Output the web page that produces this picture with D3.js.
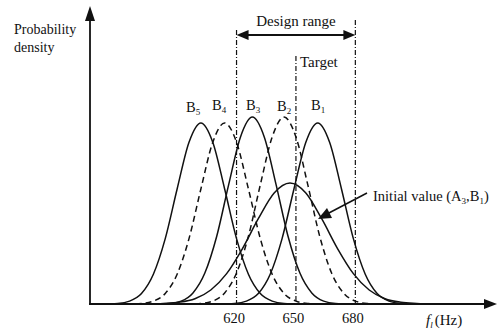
<!DOCTYPE html>
<html>
<head>
<meta charset="utf-8">
<script src="https://cdn.jsdelivr.net/npm/d3@7"></script>
<style>
  body { margin: 0; background: #fff; }
  svg text { font-family: "Liberation Serif", "Times New Roman", serif; fill: #111; }
</style>
</head>
<body>
<div class="chart"></div>
<script>
// frequency (Hz) / probability density pairs
const curveB5 = [[552,0],[560,0.0001],[566,0.0005],[572,0.0018],[578,0.0051],[584,0.0112],[590,0.0197],[596,0.0277],[602,0.031],[608,0.0277],[614,0.0197],[620,0.0112],[626,0.0051],[632,0.0018],[638,0.0005],[644,0.0001],[652,0]];
const curveB4 = [[564,0],[572,0.0001],[578,0.0005],[584,0.0018],[590,0.0051],[596,0.0112],[602,0.0197],[608,0.0277],[614,0.031],[620,0.0277],[626,0.0197],[632,0.0112],[638,0.0051],[644,0.0018],[650,0.0005],[656,0.0001],[664,0]];
const curveB3 = [[578,0],[586,0.0001],[592,0.0005],[598,0.0019],[604,0.0053],[610,0.0116],[616,0.0204],[622,0.0286],[628,0.032],[634,0.0286],[640,0.0204],[646,0.0116],[652,0.0053],[658,0.0019],[664,0.0005],[670,0.0001],[678,0]];
const curveB2 = [[594,0],[602,0.0001],[608,0.0005],[614,0.0019],[620,0.0053],[626,0.0116],[632,0.0204],[638,0.0286],[644,0.032],[650,0.0286],[656,0.0204],[662,0.0116],[668,0.0053],[674,0.0019],[680,0.0005],[686,0.0001],[694,0]];
const curveB1 = [[611,0],[619,0.0001],[625,0.0005],[631,0.0018],[637,0.0051],[643,0.0112],[649,0.0197],[655,0.0277],[661,0.031],[667,0.0277],[673,0.0197],[679,0.0112],[685,0.0051],[691,0.0018],[697,0.0005],[703,0.0001],[711,0]];
const curveInitial = [[575,0],[583,0.0001],[591,0.0003],[599,0.0009],[607,0.0024],[615,0.0052],[623,0.0095],[631,0.0146],[639,0.019],[647,0.0207],[655,0.019],[663,0.0146],[671,0.0095],[679,0.0052],[687,0.0024],[695,0.0009],[703,0.0003],[711,0.0001],[720,0]];

const curveNames = ["B5", "B4", "B3", "B2", "B1", "Initial"];
const curveDashed = [false, true, false, true, false, false];
const curveData = [curveB5, curveB4, curveB3, curveB2, curveB1, curveInitial];

const tickValues = [620, 650, 680];
const designRange = [620, 680];
const targetFreq = 650;

const width = 498, height = 331;

const svg = d3.select(".chart").append("svg")
    .attr("width", width)
    .attr("height", height);

let xScale = d3.scaleLinear().domain([546, 748]).range([90, 490]);
let yScale = d3.scaleLinear().domain([0, 0.05]).range([304, 12]);

//draw curves
let line = d3.line()
    .x(function(d) { return xScale(d[0]); })
    .y(function(d) { return yScale(d[1]); })
    .curve(d3.curveMonotoneX);

curveData.forEach(function(pts, i) {
    svg.append("path")
        .datum(pts)
        .attr("fill", "none")
        .attr("stroke", "#111")
        .attr("stroke-width", 1.5)
        .attr("stroke-dasharray", curveDashed[i] ? "6,4" : null)
        .attr("d", line);
});

//reference lines (dash-dot)
let base = yScale(0);
[[designRange[0], 30], [targetFreq, 56], [designRange[1], 20]].forEach(function(r) {
    svg.append("line")
        .attr("x1", xScale(r[0])).attr("x2", xScale(r[0]))
        .attr("y1", r[1]).attr("y2", base)
        .attr("stroke", "#111")
        .attr("stroke-width", 1.2)
        .attr("stroke-dasharray", "5,2,1,2");
});

//axes
let xAxis = svg.append("g")
    .attr("transform", "translate(0," + base + ")")
    .call(d3.axisBottom(xScale).tickValues(tickValues).tickSize(0).tickPadding(9));
xAxis.select(".domain").remove();
xAxis.selectAll("text")
    .attr("dx", -3)
    .style("font-family", "Liberation Serif, serif")
    .style("font-size", "14.5px")
    .attr("fill", "#111");

svg.append("line")
    .attr("x1", 89).attr("x2", 488).attr("y1", base).attr("y2", base)
    .attr("stroke", "#111").attr("stroke-width", 2.2);
svg.append("path")
    .attr("d", "M497," + base + "L484," + (base - 5) + "L484," + (base + 5) + "Z")
    .attr("fill", "#111");

svg.append("line")
    .attr("x1", 90).attr("x2", 90).attr("y1", base + 1).attr("y2", 18)
    .attr("stroke", "#111").attr("stroke-width", 1.8);
svg.append("path")
    .attr("d", "M90,6L85,21L95,21Z")
    .attr("fill", "#111");

//design range arrow
let ax1 = xScale(designRange[0]), ax2 = xScale(designRange[1]);
svg.append("line")
    .attr("x1", ax1 + 8).attr("x2", ax2 - 8).attr("y1", 35).attr("y2", 35)
    .attr("stroke", "#111").attr("stroke-width", 1.8);
svg.append("path").attr("d", "M" + ax1 + ",35L" + (ax1 + 12) + ",30L" + (ax1 + 12) + ",40Z").attr("fill", "#111");
svg.append("path").attr("d", "M" + ax2 + ",35L" + (ax2 - 12) + ",30L" + (ax2 - 12) + ",40Z").attr("fill", "#111");

svg.append("text").attr("x", (ax1 + ax2) / 2).attr("y", 26)
    .attr("text-anchor", "middle").style("font-size", "15px").text("Design range");
svg.append("text").attr("x", xScale(targetFreq) + 4).attr("y", 67)
    .style("font-size", "15px").text("Target");

//y label
svg.append("text").attr("x", 14).attr("y", 34).style("font-size", "14px").text("Probability");
svg.append("text").attr("x", 14).attr("y", 52).style("font-size", "14px").text("density");

//curve labels
const labelPos = [[186, 112, "5"], [212, 110, "4"], [246, 110, "3"], [277, 111, "2"], [311, 110, "1"]];
labelPos.forEach(function(p) {
    let t = svg.append("text").attr("x", p[0]).attr("y", p[1]).style("font-size", "14.5px");
    t.append("tspan").text("B");
    t.append("tspan").attr("dy", 3).style("font-size", "9px").text(p[2]);
});

//initial value annotation
let it = svg.append("text").attr("x", 373).attr("y", 201).style("font-size", "14.5px");
it.append("tspan").text("Initial value (A");
it.append("tspan").attr("dy", 3).style("font-size", "9px").text("3");
it.append("tspan").attr("dy", -3).text(",B");
it.append("tspan").attr("dy", 3).style("font-size", "9px").text("1");
it.append("tspan").attr("dy", -3).text(")");

svg.append("line")
    .attr("x1", 367).attr("y1", 193).attr("x2", 327).attr("y2", 214)
    .attr("stroke", "#111").attr("stroke-width", 1.5);
svg.append("path")
    .attr("d", "M318,219L327,208L332,218Z")
    .attr("fill", "#111");

//x label
let xl = svg.append("text").attr("x", 426).attr("y", 325).style("font-size", "15px");
xl.append("tspan").style("font-style", "italic").text("f");
xl.append("tspan").attr("dy", 3).style("font-size", "9px").style("font-style", "italic").text("l");
xl.append("tspan").attr("dy", -3).attr("dx", 2).text("(Hz)");
</script>
</body>
</html>
